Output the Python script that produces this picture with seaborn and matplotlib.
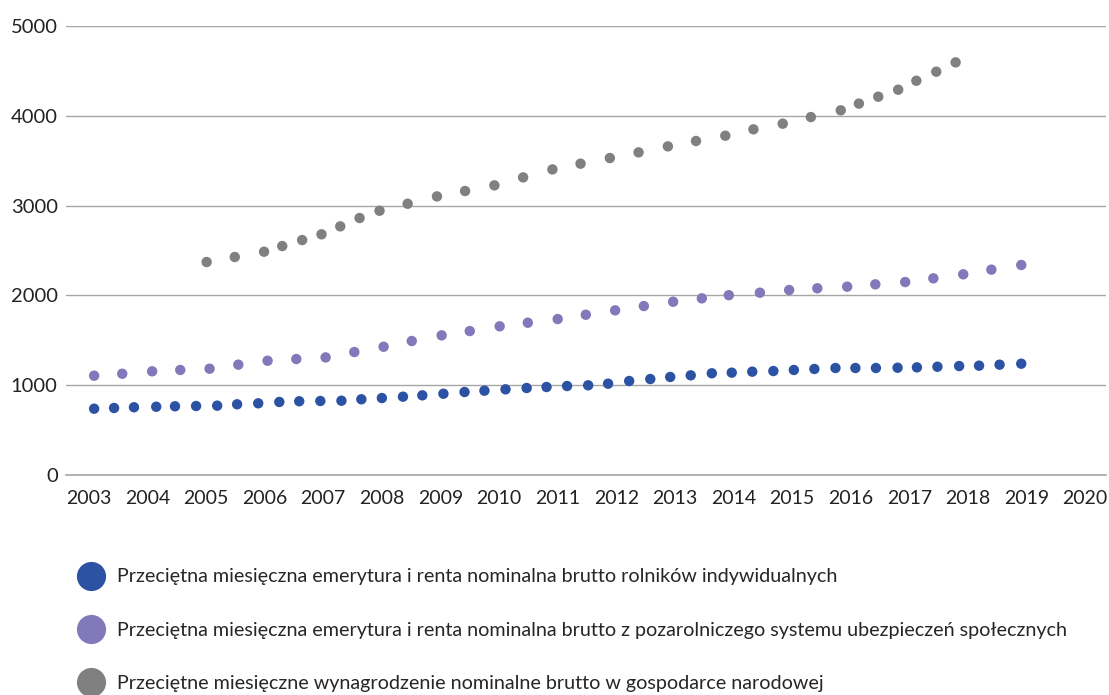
import matplotlib
matplotlib.use("Agg")
import matplotlib.pyplot as plt
import numpy as np
import pandas as pd
import seaborn as sns

# --- data (x in fractional years) ---
rolnicy_x = [2003.09, 2003.43, 2003.77, 2004.15, 2004.47, 2004.83, 2005.19, 2005.53,
             2005.89, 2006.25, 2006.59, 2006.95, 2007.31, 2007.65, 2008.00, 2008.36,
             2008.69, 2009.05, 2009.41, 2009.75, 2010.11, 2010.47, 2010.81, 2011.16,
             2011.52, 2011.86, 2012.22, 2012.58, 2012.92, 2013.27, 2013.63, 2013.97,
             2014.32, 2014.68, 2015.03, 2015.38, 2015.74, 2016.08, 2016.43, 2016.80,
             2017.13, 2017.48, 2017.85, 2018.19, 2018.54, 2018.91]
rolnicy_y = [736, 744, 752, 758, 763, 766, 770, 785, 796, 811, 819, 822, 825, 841,
             855, 870, 885, 903, 922, 937, 952, 967, 978, 989, 997, 1015, 1045, 1067,
             1090, 1108, 1131, 1138, 1149, 1156, 1168, 1179, 1190, 1190, 1190, 1193,
             1197, 1204, 1212, 1216, 1227, 1238]

zus_x = [2003.09, 2003.57, 2004.08, 2004.56, 2005.06, 2005.55, 2006.05, 2006.54,
         2007.04, 2007.53, 2008.03, 2008.51, 2009.02, 2009.50, 2010.01, 2010.49,
         2011.00, 2011.48, 2011.98, 2012.47, 2012.97, 2013.46, 2013.92, 2014.45,
         2014.95, 2015.43, 2015.94, 2016.42, 2016.93, 2017.41, 2017.92, 2018.40,
         2018.91]
zus_y = [1104, 1126, 1153, 1168, 1182, 1227, 1271, 1290, 1308, 1368, 1427, 1491,
         1554, 1602, 1655, 1695, 1736, 1784, 1833, 1881, 1929, 1967, 2002, 2030,
         2060, 2079, 2097, 2123, 2149, 2190, 2235, 2287, 2339]

wyn_x = [2005.01, 2005.49, 2005.99, 2006.30, 2006.64, 2006.97, 2007.29, 2007.62,
         2007.96, 2008.44, 2008.94, 2009.42, 2009.92, 2010.41, 2010.91, 2011.39,
         2011.89, 2012.38, 2012.88, 2013.36, 2013.86, 2014.34, 2014.84, 2015.32,
         2015.83, 2016.14, 2016.47, 2016.81, 2017.12, 2017.46, 2017.79]
wyn_y = [2372, 2428, 2487, 2550, 2617, 2681, 2770, 2863, 2944, 3022, 3104, 3164,
         3227, 3316, 3405, 3469, 3532, 3595, 3662, 3722, 3781, 3852, 3915, 3989,
         4064, 4139, 4216, 4294, 4394, 4495, 4599]

labels = [
    "Przeciętna miesięczna emerytura i renta nominalna brutto rolników indywidualnych",
    "Przeciętna miesięczna emerytura i renta nominalna brutto z pozarolniczego systemu ubezpieczeń społecznych",
    "Przeciętne miesięczne wynagrodzenie nominalne brutto w gospodarce narodowej",
]
colors = ["#2b52a3", "#8179ba", "#808080"]
year_ticks = list(range(2003, 2021))
y_ticks = [0, 1000, 2000, 3000, 4000, 5000]

df = pd.concat([
    pd.DataFrame({"rok": rolnicy_x, "wartosc": rolnicy_y, "seria": labels[0]}),
    pd.DataFrame({"rok": zus_x, "wartosc": zus_y, "seria": labels[1]}),
    pd.DataFrame({"rok": wyn_x, "wartosc": wyn_y, "seria": labels[2]}),
])

sns.set_style("white")
plt.rcParams["font.family"] = ["Lato", "DejaVu Sans"]

fig = plt.figure(figsize=(11.09, 6.95), dpi=100)
ax = fig.add_axes([0.0595, 0.317, 0.938, 0.645])

sns.scatterplot(data=df, x="rok", y="wartosc", hue="seria", hue_order=labels,
                palette=colors, s=56, linewidth=0, ax=ax, zorder=3, clip_on=False)

ax.set_xlim(2002.61, 2020.36)
ax.set_ylim(0, 5000)
ax.set_xticks(year_ticks)
ax.set_yticks(y_ticks)
ax.tick_params(axis="x", direction="inout", length=12, width=1, color="#a6a6a6",
               labelsize=14, labelcolor="#222222", pad=5)
ax.tick_params(axis="y", length=0, labelsize=14.5, labelcolor="#222222", pad=6)
ax.set_xlabel("")
ax.set_ylabel("")
for v in y_ticks[1:]:
    ax.axhline(v, color="#a6a6a6", lw=1, zorder=1)
for side in ["top", "right", "left"]:
    ax.spines[side].set_visible(False)
ax.spines["bottom"].set_color("#a6a6a6")
ax.spines["bottom"].set_linewidth(1.2)

handles, labs = ax.get_legend_handles_labels()
ax.get_legend().remove()
for h in handles:
    h.set_markersize(21)
fig.legend(handles, labs, loc="upper left", bbox_to_anchor=(0.0656, 0.1935),
           frameon=False, fontsize=14.2, labelspacing=1.85, handletextpad=0.85,
           handlelength=1.0, borderaxespad=0)

fig.savefig("out.png", dpi=100)
